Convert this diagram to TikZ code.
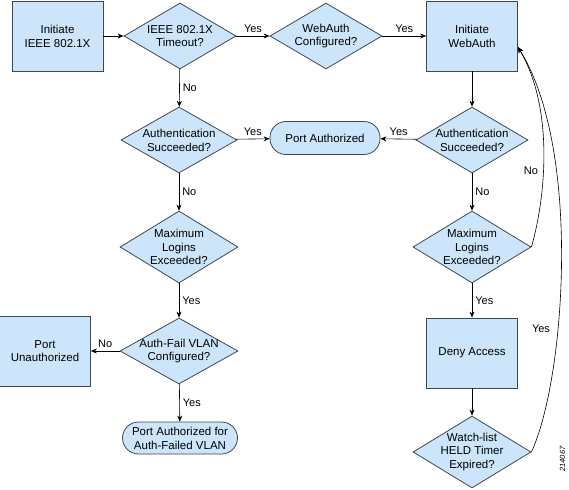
\documentclass[tikz,border=0pt]{standalone}
\usepackage{fontspec}
\setmainfont{Liberation Sans}
\usetikzlibrary{shapes.geometric,arrows.meta}
\definecolor{boxfill}{RGB}{204,229,250}
\definecolor{boxline}{RGB}{62,72,82}
\begin{document}
\begin{tikzpicture}[x=1pt,y=-1pt,
  every node/.style={font=\fontsize{11.5}{13.8}\selectfont},
  procbox/.style={draw=boxline,fill=boxfill,line width=0.8pt,minimum width=91pt,minimum height=70pt,align=center,inner sep=0pt},
  decide/.style={diamond,draw=boxline,fill=boxfill,line width=0.8pt,inner sep=0pt},
  termbox/.style={draw=boxline,fill=boxfill,line width=0.8pt,rounded corners=16pt,align=center,inner sep=0pt},
  dtext/.style={align=center,inner sep=0pt},
  flow/.style={draw=black,line width=0.6pt,-{Stealth[length=6pt,width=5pt]}},
  lab/.style={inner sep=3pt,font=\fontsize{11}{13}\selectfont}]
\useasboundingbox (0,0) rectangle (569,489);
\fill[white] (0,0) rectangle (569,489);

% process boxes
\node[procbox] (init) at (57.5,36) {Initiate\\IEEE 802.1X};
\node[procbox] (iweb) at (472,36) {Initiate\\WebAuth};
\node[procbox] (unauth) at (45,351) {Port\\Unauthorized};
\node[procbox] (deny) at (472,353) {Deny Access};

% terminals
\node[termbox,minimum width=110pt,minimum height=33pt] (pauth) at (325,138) {Port Authorized};
\node[termbox,minimum width=115pt,minimum height=32pt] (pvlan) at (180,438) {Port Authorized for\\Auth-Failed VLAN};

% decisions
\node[decide,minimum width=112pt,minimum height=66pt] (tmo) at (180,36) {};
\node[dtext] at (tmo) {IEEE 802.1X\\Timeout?};
\node[decide,minimum width=112pt,minimum height=66pt] (wcfg) at (326,36) {};
\node[dtext] at (wcfg) {WebAuth\\Configured?};
\node[decide,minimum width=116pt,minimum height=66pt] (authL) at (179,140) {};
\node[dtext] at (authL) {Authentication\\Succeeded?};
\node[decide,minimum width=112pt,minimum height=66pt] (authR) at (472,140) {};
\node[dtext] at (authR) {Authentication\\Succeeded?};
\node[decide,minimum width=118pt,minimum height=72pt] (maxL) at (179,247) {};
\node[dtext] at (maxL) {Maximum\\Logins\\Exceeded?};
\node[decide,minimum width=118pt,minimum height=72pt] (maxR) at (472,247) {};
\node[dtext] at (maxR) {Maximum\\Logins\\Exceeded?};
\node[decide,minimum width=118pt,minimum height=66pt] (afv) at (179,351) {};
\node[dtext] at (afv) {Auth-Fail VLAN\\Configured?};
\node[decide,minimum width=118pt,minimum height=72pt] (watch) at (472,452) {};
\node[dtext] at (watch) {Watch-list\\HELD Timer\\Expired?};

% connectors
\draw[flow] (init) -- (tmo);
\draw[flow] (tmo) -- node[lab,above] {Yes} (wcfg);
\draw[flow] (wcfg) -- node[lab,above] {Yes} (iweb);
\draw[flow] (tmo) -- node[lab,right] {No} (authL);
\draw[flow] (authL) -- node[lab,above] {Yes} (pauth);
\draw[flow] (authR) -- node[lab,above] {Yes} (pauth);
\draw[flow] (iweb) -- (authR);
\draw[flow] (authL) -- node[lab,right] {No} (maxL);
\draw[flow] (authR) -- node[lab,right] {No} (maxR);
\draw[flow] (maxL) -- node[lab,right] {Yes} (afv);
\draw[flow] (maxR) -- node[lab,right] {Yes} (deny);
\draw[flow] (afv) -- node[lab,above] {No} (unauth);
\draw[flow] (afv) -- node[lab,right] {Yes} (pvlan);
\draw[flow] (deny) -- (watch);

\coordinate (iwebin) at ([yshift=-11pt]iweb.east);
\draw[flow] (maxR.east) .. controls (545,200) and (555,110) .. (iwebin);
\draw[flow] (watch.east) .. controls (565,380) and (582,150) .. (iwebin);
\node[lab] (nolab) at (531,171) {No};
\node[lab] (yeslab) at (541,329) {Yes};

\node[rotate=90,font=\fontsize{7.5}{9}\selectfont\itshape,inner sep=0pt] (fig) at (562.5,459) {214067};
\end{tikzpicture}
\end{document}
